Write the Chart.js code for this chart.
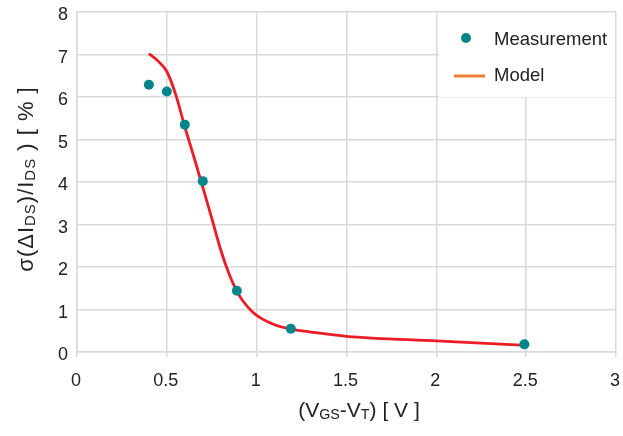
<!DOCTYPE html>
<html>
<head>
<meta charset="utf-8">
<script src="https://cdn.jsdelivr.net/npm/chart.js@4/dist/chart.umd.min.js"></script>
<style>
  html,body{margin:0;padding:0;background:#fff;}
  canvas{display:block;}
</style>
</head>
<body>
<canvas id="c" width="623" height="436"></canvas>
<script>
// Data
const measX=[0.40,0.50,0.60,0.70,0.89,1.19,2.49];
const measY=[6.29,6.13,5.35,4.02,1.44,0.55,0.18];
const modelX=[0.40,0.45,0.50,0.55,0.60,0.65,0.70,0.75,0.80,0.85,0.90,0.95,1.00,1.10,1.20,1.30,1.50,2.00,2.50];
const modelY=[7.02,6.85,6.60,6.05,5.30,4.60,3.88,3.15,2.40,1.80,1.35,1.06,0.86,0.64,0.53,0.47,0.37,0.26,0.155];
const xTicks=[0,0.5,1,1.5,2,2.5,3];
const yTicks=[0,1,2,3,4,5,6,7,8];
const seriesNames=['Measurement','Model'];

const C={teal:'#00868a',red:'#ec1c24',orange:'#ed7d31',grid:'#d9d9d9',text:'#222'};
const FONT='"Liberation Sans", Arial, sans-serif';
const pts=(xs,ys)=>xs.map((x,i)=>({x,y:ys[i]}));

// rich text with subscripts, drawn on canvas
const SUB=0.68;
function richWidth(ctx,parts,size){
  let w=0;
  parts.forEach(p=>{ctx.font=`${p.sub?size*SUB:size}px ${FONT}`; w+=ctx.measureText(p.t).width;});
  return w;
}
function drawRich(ctx,parts,x,y,size){
  let cx=x;
  parts.forEach(p=>{
    const s=p.sub?size*SUB:size;
    ctx.font=`${s}px ${FONT}`;
    ctx.fillText(p.t,cx,p.sub?y+2:y);
    cx+=ctx.measureText(p.t).width;
  });
}
const xTitle=[{t:'(V'},{t:'GS',sub:true},{t:'-V'},{t:'T',sub:true},{t:') [ V ]'}];
const yTitle=[{t:'σ(ΔI'},{t:'DS',sub:true},{t:')/I'},{t:'DS',sub:true},{t:' ) [ % ]'}];

const titles={
  id:'titles',
  afterDraw(chart){
    const ctx=chart.ctx;
    ctx.save();
    ctx.fillStyle=C.text; ctx.textBaseline='alphabetic'; ctx.textAlign='left';
    let w=richWidth(ctx,xTitle,21);
    drawRich(ctx,xTitle,359-w/2,417,21);
    ctx.translate(33,179); ctx.rotate(-Math.PI/2);
    ctx.letterSpacing='1px';
    w=richWidth(ctx,yTitle,22);
    drawRich(ctx,yTitle,-w/2,0,22);
    ctx.restore();
  }
};

const legendBox={
  id:'legendBox',
  afterDatasetsDraw(chart){
    const ctx=chart.ctx, a=chart.chartArea;
    ctx.save();
    ctx.fillStyle='#fff';
    ctx.fillRect(439,a.top+1,a.right-440,84);
    ctx.font=`18.5px ${FONT}`; ctx.textBaseline='middle';
    // Measurement
    ctx.beginPath(); ctx.arc(466,38,5,0,Math.PI*2); ctx.fillStyle=C.teal; ctx.fill();
    ctx.fillStyle=C.text; ctx.fillText(chart.data.datasets[0].label,494,40);
    // Model
    ctx.strokeStyle=C.orange; ctx.lineWidth=3;
    ctx.beginPath(); ctx.moveTo(454,76); ctx.lineTo(485,76); ctx.stroke();
    ctx.fillText(chart.data.datasets[1].label,494,76);
    ctx.restore();
  }
};

new Chart(document.getElementById('c'),{
  type:'scatter',
  data:{datasets:[
    {label:seriesNames[0],data:pts(measX,measY),showLine:false,pointRadius:5,pointHoverRadius:5,
     backgroundColor:C.teal,borderColor:C.teal,borderWidth:0,order:0},
    {label:seriesNames[1],data:pts(modelX,modelY),showLine:true,pointRadius:0,borderColor:C.red,
     borderWidth:2.8,cubicInterpolationMode:'monotone',fill:false,order:1}
  ]},
  options:{
    responsive:false,animation:false,
    layout:{padding:{top:12,right:7,left:0,bottom:0}},
    plugins:{legend:{display:false},tooltip:{enabled:false}},
    scales:{
      x:{type:'linear',min:0,max:3,
        afterBuildTicks:s=>{s.ticks=xTicks.map(v=>({value:v}));},
        afterFit:s=>{s.height=84;s.paddingLeft=0;s.paddingRight=0;},
        grid:{color:C.grid,lineWidth:1.5,tickLength:5,tickColor:C.grid},
        border:{color:C.grid,width:1.5},
        ticks:{color:C.text,font:{family:FONT,size:18},padding:13,labelOffset:-1,maxRotation:0,autoSkip:false,callback:v=>String(v)}},
      y:{type:'linear',min:0,max:8,
        afterBuildTicks:s=>{s.ticks=yTicks.map(v=>({value:v}));},
        afterFit:s=>{s.width=77;s.paddingTop=0;s.paddingBottom=0;},
        grid:{color:C.grid,lineWidth:1.5,drawTicks:false},
        border:{color:C.grid,width:1.5},
        ticks:{color:C.text,font:{family:FONT,size:18},padding:9,labelOffset:3.5,autoSkip:false,callback:v=>String(v)}}
    }
  },
  plugins:[titles,legendBox]
});
</script>
</body>
</html>
